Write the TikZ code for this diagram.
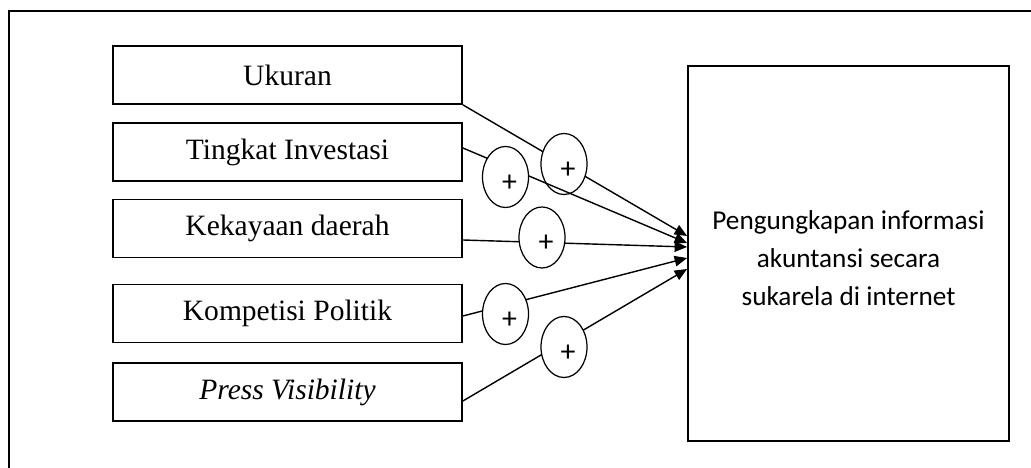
\documentclass[tikz,border=0pt]{standalone}
\usepackage{fontspec}
\setmainfont{Liberation Serif}
\newfontfamily\calibri{Carlito}
\usepackage{tikz}
\usetikzlibrary{shapes}
\usetikzlibrary{arrows.meta}

\begin{document}
\begin{tikzpicture}[box/.style={draw, line width=1pt, minimum width=6.98cm, minimum height=1.16cm, font=\fontsize{16.8}{20}\selectfont},
        sign/.style={ellipse, draw, line width=0.7pt, fill=white, minimum width=0.92cm, minimum height=1.22cm, inner sep=0pt,
            label={[font=\calibri\fontsize{17}{17}\selectfont, xshift=0.08cm, yshift=-0.12cm]center:+}},
        link/.style={line width=0.8pt, -{Triangle[length=0.25cm, width=0.21cm]}}]
        \useasboundingbox (0,0) rectangle (20.62,9.36);
        \clip (0,0) rectangle (20.62,9.36);

        % Frame
        \draw[line width=1pt] (0.18,-1) rectangle (21,9.14);

        \node[box] (uk) at (5.75,7.86) {Ukuran};
        \node[box] (ti) at (5.75,6.32) {Tingkat Investasi};
        \node[box] (ke) at (5.75,4.79) {Kekayaan daerah};
        \node[box] (ko) at (5.75,3.09) {Kompetisi Politik};
        \node[box] (pv) at (5.75,1.52) {\textit{Press Visibility}};

        \node[box, minimum width=6.42cm, minimum height=7.5cm,
            label={[align=center, font=\calibri\fontsize{15.5}{21.7}\selectfont, yshift=-0.1cm]center:Pengungkapan informasi\\ akuntansi secara\\ sukarela di internet}] (pi) at (16.97,4.29) {};

        % Arrows and signs
        \draw[link] (uk.south east) -- ([yshift=0.35cm]pi.west);
        \node[sign] (s1) at (11.28,6.08) {};

        \draw[link] ([yshift=0.08cm]ti.east) -- ([yshift=0.21cm]pi.west);
        \node[sign] (s2) at (10.11,5.82) {};

        \draw[link] ([yshift=-0.23cm]ke.east) -- ([yshift=0.13cm]pi.west);
        \node[sign] (s3) at (10.84,4.61) {};

        \draw[link] ([yshift=-0.05cm]ko.east) -- ([yshift=-0.09cm]pi.west);
        \node[sign] (s4) at (10.11,3.08) {};

        \draw[link] ([yshift=-0.18cm]pv.east) -- ([yshift=-0.31cm]pi.west);
        \node[sign] (s5) at (11.28,2.42) {};
    \end{tikzpicture}
\end{document}
